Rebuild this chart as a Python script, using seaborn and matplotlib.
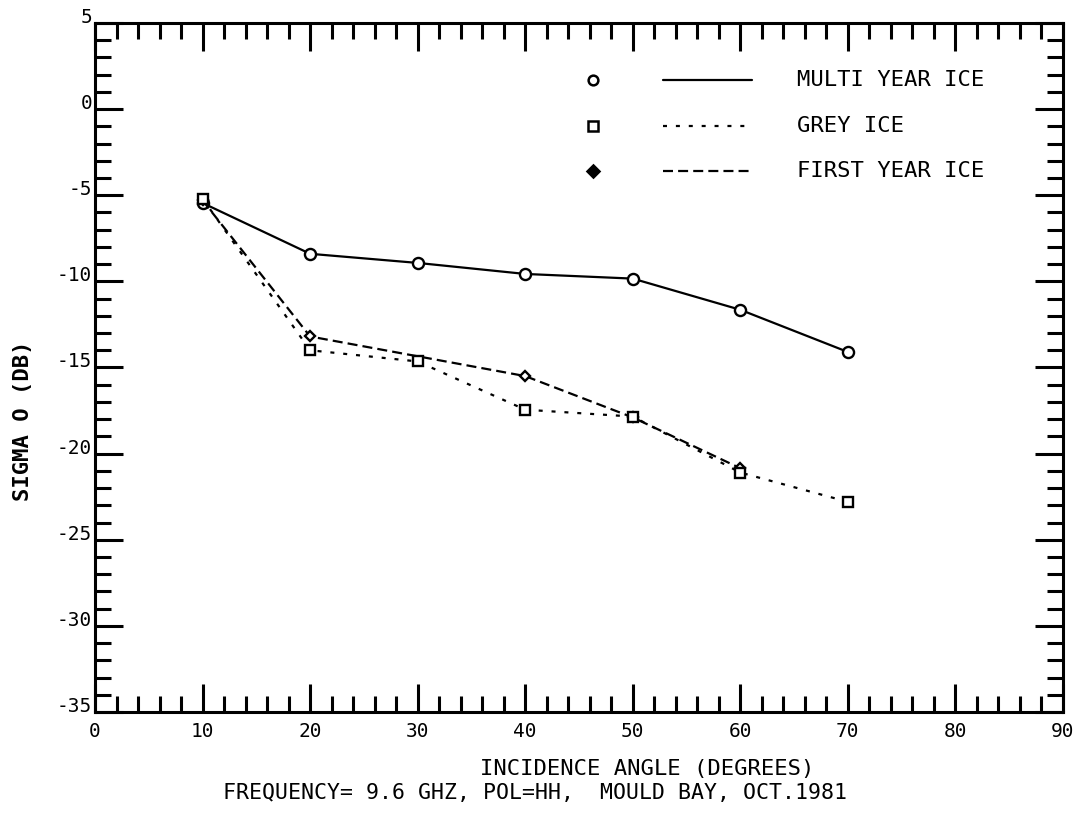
import numpy as np
import pandas as pd
import matplotlib
matplotlib.use("Agg")
import matplotlib.pyplot as plt
import seaborn as sns

# ---- data ----
angles_multi = [10, 20, 30, 40, 50, 60, 70]
sigma_multi = [-5.45, -8.4, -8.93, -9.57, -9.84, -11.65, -14.1]

angles_grey = [10, 20, 30, 40, 50, 60, 70]
sigma_grey = [-5.2, -14.0, -14.65, -17.45, -17.85, -21.1, -22.8]

angles_first = [10, 20, 40, 50, 60]
sigma_first = [-5.3, -13.2, -15.5, -17.9, -20.85]

series_names = ["MULTI YEAR ICE", "GREY ICE", "FIRST YEAR ICE"]
x_ticks = [0, 10, 20, 30, 40, 50, 60, 70, 80, 90]
y_ticks = [5, 0, -5, -10, -15, -20, -25, -30, -35]
x_label = "INCIDENCE ANGLE (DEGREES)"
y_label = "SIGMA O (DB)"
caption = "FREQUENCY= 9.6 GHZ, POL=HH,  MOULD BAY, OCT.1981"

sns.set_style("ticks")
plt.rcParams["font.family"] = ["DejaVu Sans Mono", "DejaVu Sans"]
plt.rcParams["text.color"] = "black"
plt.rcParams["axes.labelcolor"] = "black"
plt.rcParams["xtick.color"] = "black"
plt.rcParams["ytick.color"] = "black"

fig = plt.figure(figsize=(10.91, 8.21), dpi=100)
ax = fig.add_axes([0.0871, 0.1328, 0.8872, 0.8392])

df_multi = pd.DataFrame({"angle": angles_multi, "sigma": sigma_multi})
df_grey = pd.DataFrame({"angle": angles_grey, "sigma": sigma_grey})
df_first = pd.DataFrame({"angle": angles_first, "sigma": sigma_first})

common = dict(color="black", markeredgecolor="black", markeredgewidth=1.7,
              markerfacecolor="white", linewidth=1.6)
sns.lineplot(data=df_multi, x="angle", y="sigma", ax=ax, marker="o",
             markersize=8, linestyle="-", **common)
sns.lineplot(data=df_first, x="angle", y="sigma", ax=ax, marker="D",
             markersize=5.5, linestyle=(0, (4.5, 2.3)), **common)
sns.lineplot(data=df_grey, x="angle", y="sigma", ax=ax, marker="s",
             markersize=7.5, linestyle=(0, (1.8, 4.0)), **common)

ax.set_xlim(0, 90)
ax.set_ylim(-35, 5)
ax.set_xticks(x_ticks)
ax.set_yticks(y_ticks)
ax.set_xticks(np.arange(0, 91, 2), minor=True)
ax.set_yticks(np.arange(-35, 6, 1), minor=True)
ax.set_xticklabels([str(v) for v in x_ticks])
ax.set_yticklabels([str(v) for v in y_ticks])

ax.tick_params(which="both", direction="in", top=True, right=True,
               bottom=True, left=True, color="black", width=2.2)
ax.tick_params(which="major", length=20)
ax.tick_params(which="minor", length=11.5)
ax.tick_params(axis="x", which="major", labelsize=14, pad=7,
               labelcolor="black")
ax.tick_params(axis="y", which="major", labelsize=14, pad=2,
               labelcolor="black")
for lab in ax.get_yticklabels():
    lab.set_va("baseline")

for sp in ax.spines.values():
    sp.set_visible(True)
    sp.set_color("black")
    sp.set_linewidth(2.2)

ax.set_xlabel("")
ax.set_ylabel("")

# axis titles and caption
ax.text(0.57, -0.083, x_label, transform=ax.transAxes, ha="center",
        va="center", fontsize=16, color="black")
ax.text(0.455, -0.118, caption, transform=ax.transAxes, ha="center",
        va="center", fontsize=15.5, color="black")
fig.text(0.021, 0.487, y_label, rotation=90, ha="center", va="center",
         fontsize=16, fontweight="bold", color="black")

# legend drawn as in the original plot (marker, line sample, label)
leg_rows = [0.9175, 0.851, 0.785]
leg_markers = ["o", "s", "D"]
leg_styles = ["-", (0, (1.8, 4.0)), (0, (4.5, 2.3))]
leg_msize = [7, 7, 6]
leg_fill = ["white", "white", "black"]
for yrow, m, ls, ms, fc, name in zip(leg_rows, leg_markers, leg_styles,
                                     leg_msize, leg_fill, series_names):
    ax.plot([0.514], [yrow], marker=m, markersize=ms, markerfacecolor=fc,
            markeredgecolor="black", markeredgewidth=1.8, linestyle="none",
            transform=ax.transAxes, clip_on=False)
    ax.plot([0.587, 0.679], [yrow, yrow], color="black", linewidth=1.6,
            linestyle=ls, transform=ax.transAxes)
    ax.text(0.725, yrow, name, transform=ax.transAxes, ha="left",
            va="center", fontsize=16, color="black")

fig.savefig("out.png", dpi=100, facecolor="white")
